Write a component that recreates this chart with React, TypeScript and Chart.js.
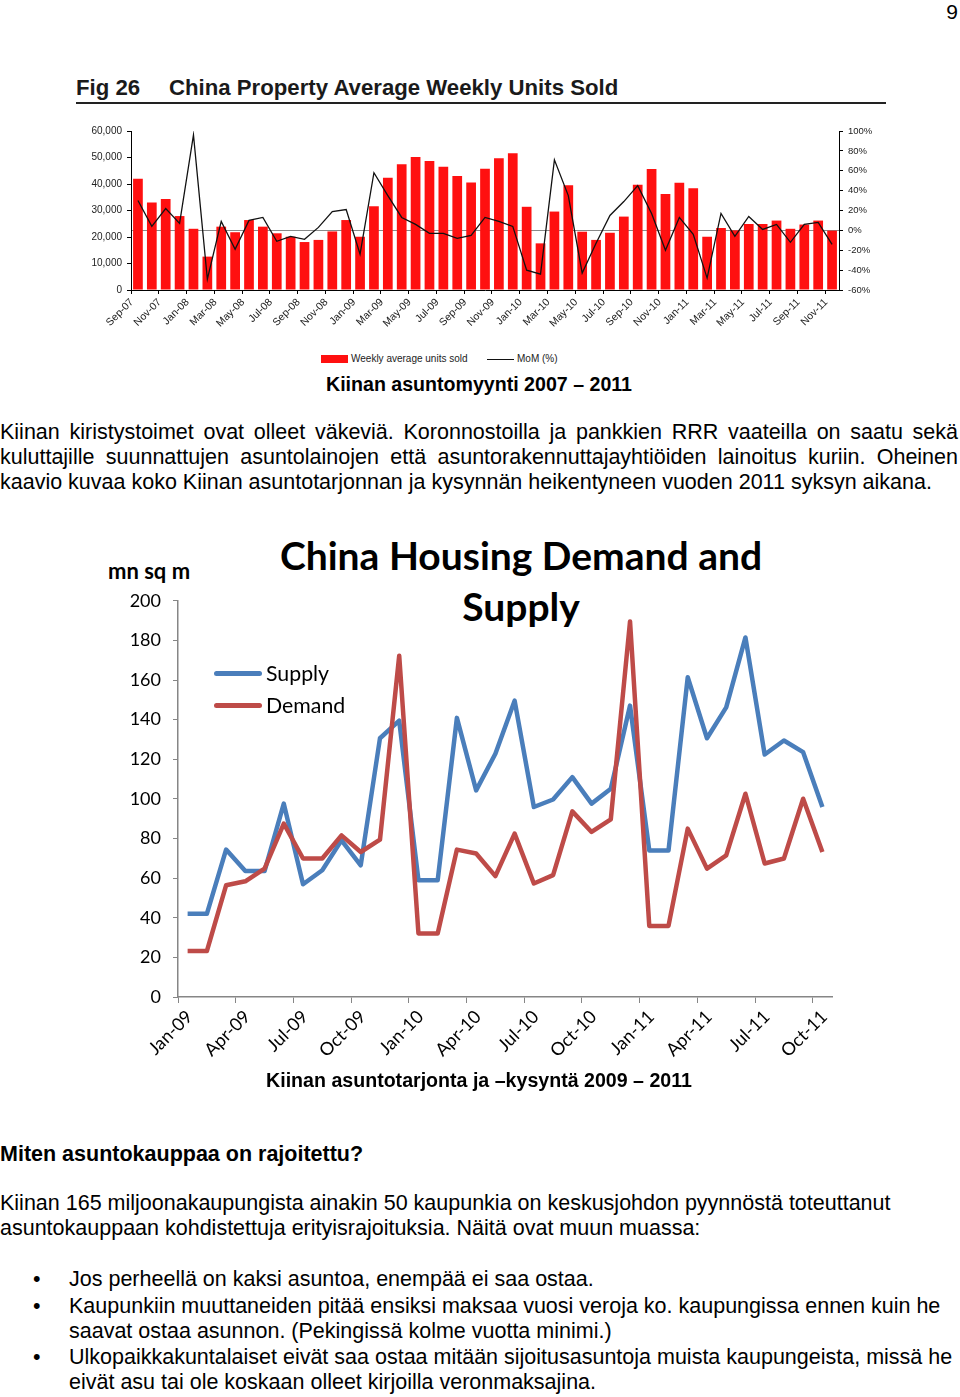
import React, { useEffect, useRef } from 'react';
import { Chart, registerables } from 'chart.js';
Chart.register(...registerables);

// ---------- Fig 26 data ----------
const salesMonths = [
  'Sep-07', 'Oct-07', 'Nov-07', 'Dec-07',
  'Jan-08', 'Feb-08', 'Mar-08', 'Apr-08', 'May-08', 'Jun-08', 'Jul-08', 'Aug-08', 'Sep-08', 'Oct-08', 'Nov-08', 'Dec-08',
  'Jan-09', 'Feb-09', 'Mar-09', 'Apr-09', 'May-09', 'Jun-09', 'Jul-09', 'Aug-09', 'Sep-09', 'Oct-09', 'Nov-09', 'Dec-09',
  'Jan-10', 'Feb-10', 'Mar-10', 'Apr-10', 'May-10', 'Jun-10', 'Jul-10', 'Aug-10', 'Sep-10', 'Oct-10', 'Nov-10', 'Dec-10',
  'Jan-11', 'Feb-11', 'Mar-11', 'Apr-11', 'May-11', 'Jun-11', 'Jul-11', 'Aug-11', 'Sep-11', 'Oct-11', 'Nov-11',
];
const weeklyUnits = [
  42000, 33000, 34300, 27900,
  23100, 12600, 23900, 21800, 26400, 23900, 21400, 20100, 18100, 18900, 22100, 26400,
  20100, 31600, 42400, 47500, 50200, 48700, 46500, 43000, 40600, 45800, 49700, 51600,
  31400, 17600, 29600, 39500, 22000, 18900, 21600, 27700, 39700, 45700, 36200, 40500,
  38400, 20100, 23400, 22500, 24900, 24900, 26200, 23100, 24700, 26200, 22400,
];
const momPct = [
  30, 4, 22, 7,
  96, -49, 9, -19, 10, 13, -11, -6, -9, 3, 19, 21,
  -24, 58, 35, 13, 6, -3, -3, -8, -5, 13, 9, 4,
  -40, -44, 71, 35, -43, -13, 15, 29, 45, 17, -20, 13,
  -4, -48, 17, -6, 14, 1, 6, -12, 6, 8, -14,
];
const unitsAxisMax = 60000;
const unitsStep = 10000;
const momAxisMin = -60;
const momAxisMax = 100;
const momStep = 20;

// ---------- Housing demand / supply data ----------
const housingMonths = [
  'Jan-09', 'Feb-09', 'Mar-09', 'Apr-09', 'May-09', 'Jun-09', 'Jul-09', 'Aug-09', 'Sep-09', 'Oct-09', 'Nov-09', 'Dec-09',
  'Jan-10', 'Feb-10', 'Mar-10', 'Apr-10', 'May-10', 'Jun-10', 'Jul-10', 'Aug-10', 'Sep-10', 'Oct-10', 'Nov-10', 'Dec-10',
  'Jan-11', 'Feb-11', 'Mar-11', 'Apr-11', 'May-11', 'Jun-11', 'Jul-11', 'Aug-11', 'Sep-11', 'Oct-11',
];
const supply = [
  42, 42, 74.4, 63.6, 63.6, 97.6, 56.9, 64, 79.1, 66.5, 130.6, 139.5,
  58.9, 58.9, 140.9, 104.3, 122.8, 149.6, 95.9, 99.7, 111, 97.6, 105.1, 147.1,
  74, 74, 161.4, 130.6, 146.2, 181.5, 122.4, 129.5, 123.6, 95.9,
];
const demand = [
  23.2, 23.2, 56.4, 58.4, 64.8, 87.5, 69.9, 69.9, 81.6, 73.2, 79.4, 172.3,
  32.1, 32.1, 74.4, 72.4, 61, 82.5, 57.3, 61.5, 93.7, 83.3, 89.7, 189.6,
  35.9, 35.9, 85, 64.8, 71.5, 102.6, 67.4, 69.9, 100.1, 73.2,
];
const housingAxisMax = 200;
const housingStep = 20;

const ARIAL = '"Liberation Sans", Arial, sans-serif';
const CAL = 'Lato, "Open Sans", sans-serif';

function TextLine(props: { y: number; x?: number; w?: number; text: string; bold?: boolean; size?: number; justify?: boolean; center?: boolean; font?: string }) {
  const { y, x = 0, w = 958, text, bold, size = 21.5, justify, center, font = ARIAL } = props;
  return (
    <div
      style={{
        position: 'absolute',
        left: x,
        top: y - 13,
        width: w,
        height: 26,
        lineHeight: '26px',
        fontSize: size,
        fontWeight: bold ? 700 : 400,
        fontFamily: font,
        textAlign: justify ? 'justify' : center ? 'center' : 'left',
        textAlignLast: justify ? 'justify' : center ? 'center' : 'left',
        whiteSpace: justify ? 'normal' : 'nowrap',
        color: '#000',
      } as React.CSSProperties}
    >
      {text}
    </div>
  );
}

export default function App() {
  const ref1 = useRef<HTMLCanvasElement>(null);
  const ref2 = useRef<HTMLCanvasElement>(null);

  useEffect(() => {
    const c1 = new Chart(ref1.current!, {
      type: 'bar',
      data: {
        labels: salesMonths,
        datasets: [
          {
            type: 'line',
            label: 'MoM (%)',
            data: momPct,
            yAxisID: 'y2',
            borderColor: '#111',
            borderWidth: 1.3,
            pointRadius: 0,
            tension: 0,
            order: 0,
          } as any,
          {
            type: 'bar',
            label: 'Weekly average units sold',
            data: weeklyUnits,
            yAxisID: 'y',
            backgroundColor: '#ff1010',
            barPercentage: 0.7,
            categoryPercentage: 1,
            order: 1,
          },
        ],
      },
      options: {
        responsive: false,
        animation: false,
        devicePixelRatio: 1,
        layout: { padding: { top: 13, left: 0, right: 0, bottom: 0 } },
        plugins: { legend: { display: false }, tooltip: { enabled: false } },
        scales: {
          x: {
            offset: true,
            grid: {
              offset: true,
              drawOnChartArea: false,
              tickLength: 4,
              tickColor: (c: any) => (c.index % 2 === 0 ? '#000' : 'rgba(0,0,0,0)'),
            },
            border: { color: '#000' },
            ticks: {
              autoSkip: false,
              minRotation: 45,
              maxRotation: 45,
              padding: 2,
              labelOffset: -6,
              color: '#222',
              font: { family: ARIAL, size: 10.5 },
              callback: (_v: any, i: number) => (i % 2 === 0 ? salesMonths[i] : ''),
            },
            afterFit: (s: any) => { s.height = 50; },
          } as any,
          y: {
            position: 'left',
            min: 0,
            max: unitsAxisMax,
            grid: { drawOnChartArea: false, tickLength: 4, tickColor: '#000' },
            border: { color: '#000' },
            ticks: {
              stepSize: unitsStep,
              padding: 5,
              color: '#222',
              font: { family: ARIAL, size: 10 },
              callback: (v: any) => Number(v).toLocaleString('en-US'),
            },
            afterFit: (s: any) => { s.width = 71; },
          } as any,
          y2: {
            position: 'right',
            min: momAxisMin,
            max: momAxisMax,
            grid: {
              drawOnChartArea: true,
              color: (c: any) => (c.tick && c.tick.value === 0 ? '#8a8a8a' : 'rgba(0,0,0,0)'),
              tickLength: 4,
              tickColor: '#000',
            },
            border: { color: '#000' },
            ticks: {
              stepSize: momStep,
              padding: 5,
              color: '#222',
              font: { family: ARIAL, size: 9.5 },
              callback: (v: any) => `${v}%`,
            },
            afterFit: (s: any) => { s.width = 71; },
          } as any,
        },
      },
    });

    const c2 = new Chart(ref2.current!, {
      type: 'line',
      data: {
        labels: housingMonths,
        datasets: [
          {
            label: 'Supply',
            data: supply,
            borderColor: '#4a7ebb',
            borderWidth: 4.5,
            pointRadius: 0,
            tension: 0,
            borderJoinStyle: 'round',
            order: 1,
          },
          {
            label: 'Demand',
            data: demand,
            borderColor: '#be4b48',
            borderWidth: 4.5,
            pointRadius: 0,
            tension: 0,
            borderJoinStyle: 'round',
            order: 0,
          },
        ],
      },
      options: {
        responsive: false,
        animation: false,
        devicePixelRatio: 1,
        layout: { padding: { top: 10, left: 0, right: 24, bottom: 0 } },
        plugins: { legend: { display: false }, tooltip: { enabled: false } },
        scales: {
          x: {
            offset: true,
            grid: {
              offset: true,
              drawOnChartArea: false,
              tickLength: 6,
              tickColor: (c: any) => (c.index % 3 === 0 ? '#868686' : 'rgba(0,0,0,0)'),
            },
            border: { color: '#868686', width: 1.5 },
            ticks: {
              autoSkip: false,
              minRotation: 45,
              maxRotation: 45,
              padding: 3,
              labelOffset: 2,
              color: '#000',
              font: { family: CAL, size: 18 },
              callback: (_v: any, i: number) => (i % 3 === 0 ? housingMonths[i] : ''),
            },
            afterFit: (s: any) => { s.height = 72; },
          } as any,
          y: {
            min: 0,
            max: housingAxisMax,
            grid: { drawOnChartArea: false, tickLength: 5, tickColor: '#868686' },
            border: { color: '#868686', width: 1.5 },
            ticks: {
              stepSize: housingStep,
              padding: 12,
              color: '#000',
              font: { family: CAL, size: 18 },
            },
            afterFit: (s: any) => { s.width = 82; },
          } as any,
        },
      },
    });

    return () => {
      c1.destroy();
      c2.destroy();
    };
  }, []);

  return (
    <div style={{ position: 'absolute', left: 0, top: 0, width: 960, height: 1397, background: '#fff', overflow: 'hidden', fontFamily: ARIAL }}>
      {/* page number */}
      <div style={{ position: 'absolute', left: 940, top: 0, width: 18, textAlign: 'right', fontSize: 21, lineHeight: '24px', fontFamily: ARIAL }}>9</div>

      {/* Fig 26 title */}
      <div style={{ position: 'absolute', left: 76, top: 74, fontSize: 22.2, fontWeight: 700, lineHeight: '28px', color: '#1a1a1a', whiteSpace: 'nowrap', fontFamily: ARIAL }}>Fig 26</div>
      <div style={{ position: 'absolute', left: 169, top: 74, fontSize: 22.2, fontWeight: 700, lineHeight: '28px', color: '#1a1a1a', whiteSpace: 'nowrap', fontFamily: ARIAL }}>China Property Average Weekly Units Sold</div>
      <div style={{ position: 'absolute', left: 76, top: 102, width: 810, height: 2, background: '#222' }} />

      <canvas ref={ref1} width={850} height={222} style={{ position: 'absolute', left: 60, top: 118 }} />

      {/* Fig 26 legend */}
      <div style={{ position: 'absolute', left: 321, top: 355, width: 27, height: 8, background: '#ff1010' }} />
      <div style={{ position: 'absolute', left: 351, top: 352, fontSize: 10, lineHeight: '14px', color: '#222', whiteSpace: 'nowrap' }}>Weekly average units sold</div>
      <div style={{ position: 'absolute', left: 487, top: 358.5, width: 27, height: 1.3, background: '#111' }} />
      <div style={{ position: 'absolute', left: 517, top: 352, fontSize: 10, lineHeight: '14px', color: '#222', whiteSpace: 'nowrap' }}>MoM (%)</div>

      <TextLine y={384} x={0} w={958} text="Kiinan asuntomyynti 2007 – 2011" bold size={19.6} center />

      <TextLine y={432} text="Kiinan kiristystoimet ovat olleet väkeviä. Koronnostoilla ja pankkien RRR vaateilla on saatu sekä" justify />
      <TextLine y={457} text="kuluttajille suunnattujen asuntolainojen että asuntorakennuttajayhtiöiden lainoitus kuriin. Oheinen" justify />
      <TextLine y={482} text="kaavio kuvaa koko Kiinan asuntotarjonnan ja kysynnän heikentyneen vuoden 2011 syksyn aikana." />

      {/* Housing chart */}
      <div style={{ position: 'absolute', left: 108, top: 557, fontSize: 22, fontWeight: 700, lineHeight: '28px', fontFamily: CAL, whiteSpace: 'nowrap' }}>mn sq m</div>
      <div style={{ position: 'absolute', left: 171, top: 530, width: 700, textAlign: 'center', fontSize: 39, fontWeight: 700, lineHeight: '51px', fontFamily: CAL }}>
        <div>China Housing Demand and</div>
        <div>Supply</div>
      </div>

      <canvas ref={ref2} width={760} height={491} style={{ position: 'absolute', left: 96, top: 578 }} />

      {/* Housing legend */}
      <div style={{ position: 'absolute', left: 214, top: 670.5, width: 48, height: 5, borderRadius: 3, background: '#4a7ebb' }} />
      <div style={{ position: 'absolute', left: 266, top: 659, fontSize: 21.3, lineHeight: '28px', fontFamily: CAL, whiteSpace: 'nowrap' }}>Supply</div>
      <div style={{ position: 'absolute', left: 214, top: 702.5, width: 48, height: 5, borderRadius: 3, background: '#be4b48' }} />
      <div style={{ position: 'absolute', left: 266, top: 691, fontSize: 21.3, lineHeight: '28px', fontFamily: CAL, whiteSpace: 'nowrap' }}>Demand</div>

      <TextLine y={1080} x={0} w={958} text="Kiinan asuntotarjonta ja –kysyntä 2009 – 2011" bold size={19.6} center />

      <TextLine y={1154} text="Miten asuntokauppaa on rajoitettu?" bold />

      <TextLine y={1203} text="Kiinan 165 miljoonakaupungista ainakin 50 kaupunkia on keskusjohdon pyynnöstä toteuttanut" />
      <TextLine y={1228} text="asuntokauppaan kohdistettuja erityisrajoituksia. Näitä ovat muun muassa:" />

      <TextLine y={1279} x={33} w={20} text="•" />
      <TextLine y={1279} x={69} w={890} text="Jos perheellä on kaksi asuntoa, enempää ei saa ostaa." />
      <TextLine y={1306} x={33} w={20} text="•" />
      <TextLine y={1306} x={69} w={890} text="Kaupunkiin muuttaneiden pitää ensiksi maksaa vuosi veroja ko. kaupungissa ennen kuin he" />
      <TextLine y={1331} x={69} w={890} text="saavat ostaa asunnon. (Pekingissä kolme vuotta minimi.)" />
      <TextLine y={1357} x={33} w={20} text="•" />
      <TextLine y={1357} x={69} w={890} text="Ulkopaikkakuntalaiset eivät saa ostaa mitään sijoitusasuntoja muista kaupungeista, missä he" />
      <TextLine y={1382} x={69} w={890} text="eivät asu tai ole koskaan olleet kirjoilla veronmaksajina." />
    </div>
  );
}
